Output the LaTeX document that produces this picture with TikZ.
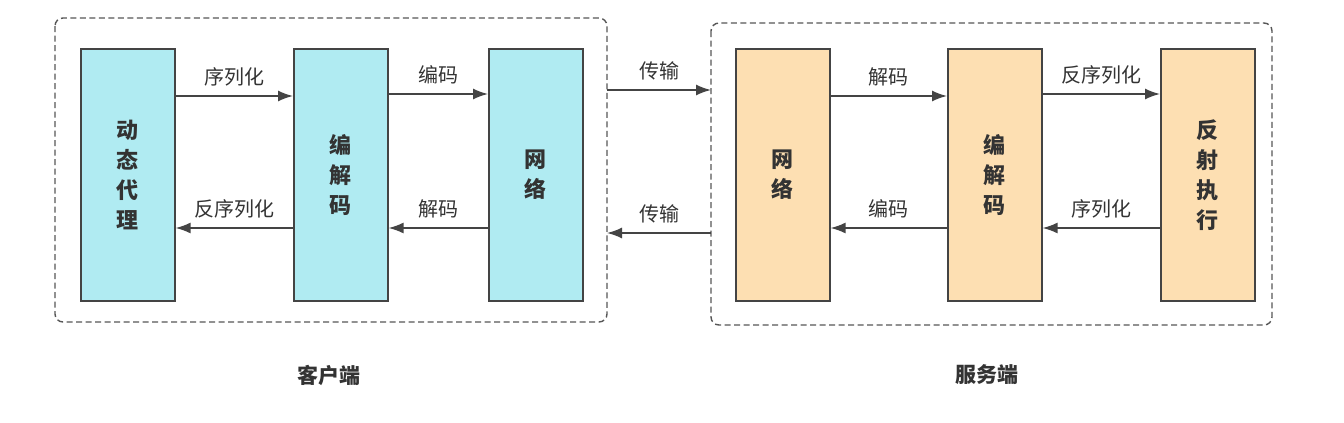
\documentclass[tikz,border=0pt]{standalone}
\usepackage{fontspec}
\newfontfamily\cjk{Noto Sans CJK SC}
\usetikzlibrary{arrows.meta}
\definecolor{cyanfill}{HTML}{B0EBF2}
\definecolor{orangefill}{HTML}{FDDFB2}
\definecolor{edge}{HTML}{444444}
\definecolor{txt}{HTML}{333333}
\tikzset{
  blk/.style={draw=edge, line width=1.6pt, minimum width=94pt, minimum height=252pt, anchor=north west, inner sep=0pt,
    font=\cjk\bfseries\fontsize{22}{30}\selectfont, text=txt, align=center},
  cblk/.style={blk, fill=cyanfill},
  oblk/.style={blk, fill=orangefill},
  grp/.style={draw=edge!90, dash pattern=on 6pt off 3.5pt, line width=1.4pt, rounded corners=8pt},
  conn/.style={draw=edge, line width=1.6pt, -{Latex[length=15pt,width=11pt]}},
  lbl/.style={font=\cjk\fontsize{20}{24}\selectfont, text=txt},
  foot/.style={font=\cjk\bfseries\fontsize{21}{24}\selectfont, text=txt}
}
\begin{document}
\begin{tikzpicture}[x=1pt,y=-1pt]
\useasboundingbox[fill=white] (0,0) rectangle (1344,423);
% groups
\draw[grp] (55,18) rectangle (607,322);
\draw[grp] (711,23) rectangle (1272,325);
% client boxes
\node[cblk] (proxy) at (80,48) {动\\态\\代\\理};
\node[cblk] (ccodec) at (293,48) {编\\解\\码};
\node[cblk] (cnet) at (488,48) {网\\络};
% server boxes
\node[oblk] (snet) at (735,48) {网\\络};
\node[oblk] (scodec) at (947,48) {编\\解\\码};
\node[oblk] (refl) at (1160,48) {反\\射\\执\\行};
% coordinates on group borders
\coordinate (cb1) at (607,90);
\coordinate (sb1) at (711,90);
\coordinate (cb2) at (607,233);
\coordinate (sb2) at (711,233);
% client arrows
\draw[conn] (proxy.east |- 0,96) -- node[lbl, above=6pt] {序列化} (ccodec.west |- 0,96);
\draw[conn] (ccodec.east |- 0,94) -- node[lbl, above=6pt] {编码} (cnet.west |- 0,94);
\draw[conn] (ccodec.west |- 0,228) -- node[lbl, above=6pt] {反序列化} (proxy.east |- 0,228);
\draw[conn] (cnet.west |- 0,228) -- node[lbl, above=6pt] {解码} (ccodec.east |- 0,228);
% transfer
\draw[conn] (cb1) -- node[lbl, above=6pt] {传输} (sb1);
\draw[conn] (sb2) -- node[lbl, above=6pt] {传输} (cb2);
% server arrows
\draw[conn] (snet.east |- 0,96) -- node[lbl, above=6pt] {解码} (scodec.west |- 0,96);
\draw[conn] (scodec.east |- 0,94) -- node[lbl, above=6pt] {反序列化} (refl.west |- 0,94);
\draw[conn] (scodec.west |- 0,228) -- node[lbl, above=6pt] {编码} (snet.east |- 0,228);
\draw[conn] (refl.west |- 0,228) -- node[lbl, above=6pt] {序列化} (scodec.east |- 0,228);
% footers
\node[foot] (client) at (329,375) {客户端};
\node[foot] (server) at (987,375) {服务端};
\end{tikzpicture}
\end{document}
